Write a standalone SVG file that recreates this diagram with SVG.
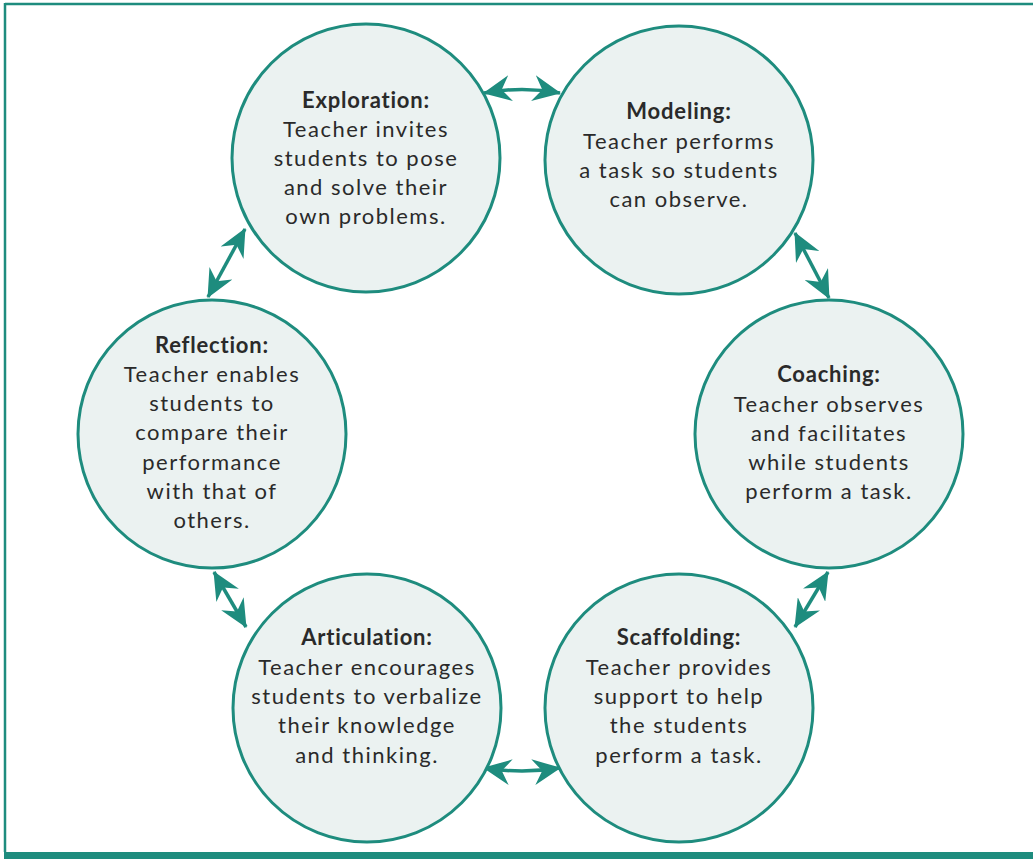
<svg xmlns="http://www.w3.org/2000/svg" width="1033" height="859" viewBox="0 0 1033 859">
  <style>
    .node { fill: #ebf2f1; stroke: #1e8c7e; stroke-width: 3; }
    .t { font-family: "Lato", "Noto Sans", sans-serif; font-size: 22px; fill: #2a2a2a; text-anchor: middle; letter-spacing: 1.5px; }
    .h { font-weight: bold; letter-spacing: 0.8px; }
    .link { fill: none; stroke: #1e8c7e; stroke-width: 3.5; marker-start: url(#tip); marker-end: url(#tip); }
  </style>
  <defs>
    <marker id="tip" viewBox="0 0 28 26" refX="27" refY="13" markerWidth="28" markerHeight="26" markerUnits="userSpaceOnUse" orient="auto-start-reverse">
      <path d="M28 13 L0 0 L9 13 L0 26 Z" fill="#1e8c7e"/>
    </marker>
  </defs>

  <!-- frame -->
  <rect x="0" y="0" width="1033" height="859" fill="#ffffff"/>
  <line x1="5" y1="4" x2="1033" y2="4" stroke="#1e8c7e" stroke-width="2.5"/>
  <line x1="5" y1="3" x2="5" y2="852" stroke="#1e8c7e" stroke-width="2.5"/>
  <rect x="4" y="852" width="1029" height="7" fill="#1e8c7e"/>

  <g id="connectors">
    <path class="link" d="M484 93 Q522 86 560 93"/>
    <path class="link" d="M795 233 L829 298"/>
    <path class="link" d="M828 572 L795 627"/>
    <path class="link" d="M560 768 Q522 774 484 768"/>
    <path class="link" d="M246 627 L214 572"/>
    <path class="link" d="M208 297 L245 229"/>
  </g>

  <g id="exploration">
    <circle class="node" cx="366" cy="158" r="134"/>
    <text class="t"><tspan class="h" x="366" y="108">Exploration:</tspan><tspan x="366" y="137">Teacher invites</tspan><tspan x="366" y="166">students to pose</tspan><tspan x="366" y="195">and solve their</tspan><tspan x="366" y="224">own problems.</tspan></text>
  </g>

  <g id="modeling">
    <circle class="node" cx="679" cy="160" r="134"/>
    <text class="t"><tspan class="h" x="679" y="119">Modeling:</tspan><tspan x="679" y="149">Teacher performs</tspan><tspan x="679" y="178">a task so students</tspan><tspan x="679" y="207">can observe.</tspan></text>
  </g>

  <g id="coaching">
    <circle class="node" cx="829" cy="434" r="134"/>
    <text class="t"><tspan class="h" x="829" y="382">Coaching:</tspan><tspan x="829" y="412">Teacher observes</tspan><tspan x="829" y="441">and facilitates</tspan><tspan x="829" y="470">while students</tspan><tspan x="829" y="499">perform a task.</tspan></text>
  </g>

  <g id="scaffolding">
    <circle class="node" cx="679" cy="708" r="134"/>
    <text class="t"><tspan class="h" x="679" y="645">Scaffolding:</tspan><tspan x="679" y="675">Teacher provides</tspan><tspan x="679" y="704">support to help</tspan><tspan x="679" y="733">the students</tspan><tspan x="679" y="763">perform a task.</tspan></text>
  </g>

  <g id="articulation">
    <circle class="node" cx="367" cy="708" r="134"/>
    <text class="t"><tspan class="h" x="367" y="645">Articulation:</tspan><tspan x="367" y="675">Teacher encourages</tspan><tspan x="367" y="704">students to verbalize</tspan><tspan x="367" y="733">their knowledge</tspan><tspan x="367" y="763">and thinking.</tspan></text>
  </g>

  <g id="reflection">
    <circle class="node" cx="212" cy="434" r="134"/>
    <text class="t"><tspan class="h" x="212" y="353">Reflection:</tspan><tspan x="212" y="382">Teacher enables</tspan><tspan x="212" y="411">students to</tspan><tspan x="212" y="440">compare their</tspan><tspan x="212" y="470">performance</tspan><tspan x="212" y="499">with that of</tspan><tspan x="212" y="528">others.</tspan></text>
  </g>
</svg>
